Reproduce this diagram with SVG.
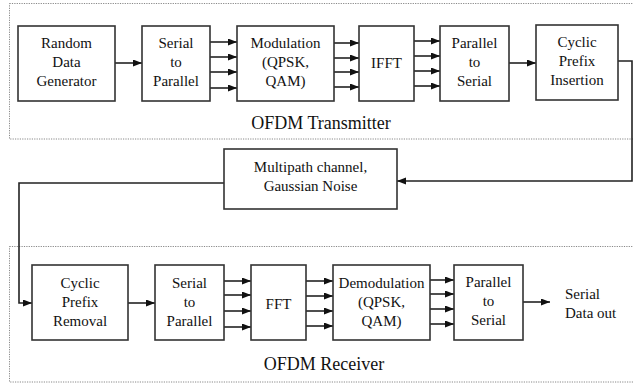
<svg xmlns="http://www.w3.org/2000/svg" width="633" height="384" viewBox="0 0 633 384">
<style>
.box{fill:#fff;stroke:#333;stroke-width:1.6}
.frame{fill:none;stroke:#888;stroke-width:1;stroke-dasharray:1.2 1.2}
.t{font-family:"Liberation Serif","Times New Roman",serif;font-size:15px;fill:#111;text-anchor:middle}
.big{font-family:"Liberation Serif","Times New Roman",serif;font-size:18px;fill:#111;text-anchor:middle}
.lt{font-family:"Liberation Serif","Times New Roman",serif;font-size:15px;fill:#111}
.c{fill:none;stroke:#222;stroke-width:1.6}
</style>
<defs>
<marker id="ah" markerUnits="userSpaceOnUse" markerWidth="10" markerHeight="8" refX="9" refY="3.5" orient="auto">
<path d="M0,0 L9,3.5 L0,7 z" fill="#111"/>
</marker>
</defs>
<rect class="frame" x="9.5" y="3.5" width="640" height="135.5"/>
<rect class="frame" x="9.5" y="246.5" width="640" height="135.5"/>
<text class="big" x="321" y="129">OFDM Transmitter</text>
<text class="big" x="324" y="370">OFDM Receiver</text>
<g id="connectors">
<path class="c" d="M115,63 H142" marker-end="url(#ah)"/>
<path class="c" d="M210,42 H237" marker-end="url(#ah)"/>
<path class="c" d="M210,57 H237" marker-end="url(#ah)"/>
<path class="c" d="M210,72 H237" marker-end="url(#ah)"/>
<path class="c" d="M210,88 H237" marker-end="url(#ah)"/>
<path class="c" d="M334,43 H359" marker-end="url(#ah)"/>
<path class="c" d="M334,58 H359" marker-end="url(#ah)"/>
<path class="c" d="M334,72 H359" marker-end="url(#ah)"/>
<path class="c" d="M334,87 H359" marker-end="url(#ah)"/>
<path class="c" d="M414,41 H440" marker-end="url(#ah)"/>
<path class="c" d="M414,56 H440" marker-end="url(#ah)"/>
<path class="c" d="M414,71 H440" marker-end="url(#ah)"/>
<path class="c" d="M414,86 H440" marker-end="url(#ah)"/>
<path class="c" d="M509,63 H536" marker-end="url(#ah)"/>
<path class="c" d="M618,61 H632 V181 H397" marker-end="url(#ah)"/>
<path class="c" d="M224,183 H19 V303 H32" marker-end="url(#ah)"/>
<path class="c" d="M128,303 H155" marker-end="url(#ah)"/>
<path class="c" d="M224,281 H251" marker-end="url(#ah)"/>
<path class="c" d="M224,295 H251" marker-end="url(#ah)"/>
<path class="c" d="M224,311 H251" marker-end="url(#ah)"/>
<path class="c" d="M224,327 H251" marker-end="url(#ah)"/>
<path class="c" d="M306,281 H333" marker-end="url(#ah)"/>
<path class="c" d="M306,296 H333" marker-end="url(#ah)"/>
<path class="c" d="M306,311 H333" marker-end="url(#ah)"/>
<path class="c" d="M306,326 H333" marker-end="url(#ah)"/>
<path class="c" d="M430,280 H454" marker-end="url(#ah)"/>
<path class="c" d="M430,294 H454" marker-end="url(#ah)"/>
<path class="c" d="M430,309 H454" marker-end="url(#ah)"/>
<path class="c" d="M430,324 H454" marker-end="url(#ah)"/>
<path class="c" d="M523,302 H550" marker-end="url(#ah)"/>
</g>
<g id="rdg">
<rect class="box" x="18" y="26" width="97" height="75"/>
<text class="t" x="66.5" y="48">Random</text>
<text class="t" x="66.5" y="67">Data</text>
<text class="t" x="66.5" y="86">Generator</text>
</g>
<g id="s2p_tx">
<rect class="box" x="142" y="26" width="68" height="75"/>
<text class="t" x="176" y="48">Serial</text>
<text class="t" x="176" y="67">to</text>
<text class="t" x="176" y="86">Parallel</text>
</g>
<g id="mod">
<rect class="box" x="237" y="26" width="97" height="75"/>
<text class="t" x="285.5" y="48">Modulation</text>
<text class="t" x="285.5" y="67">(QPSK,</text>
<text class="t" x="285.5" y="86">QAM)</text>
</g>
<g id="ifft">
<rect class="box" x="359" y="26" width="55" height="75"/>
<text class="t" x="386.5" y="68">IFFT</text>
</g>
<g id="p2s_tx">
<rect class="box" x="440" y="26" width="69" height="75"/>
<text class="t" x="474.5" y="48">Parallel</text>
<text class="t" x="474.5" y="67">to</text>
<text class="t" x="474.5" y="86">Serial</text>
</g>
<g id="cpi">
<rect class="box" x="536" y="25" width="82" height="75"/>
<text class="t" x="577" y="47">Cyclic</text>
<text class="t" x="577" y="66">Prefix</text>
<text class="t" x="577" y="85">Insertion</text>
</g>
<g id="channel">
<rect class="box" x="224" y="149" width="173" height="60"/>
<text class="t" x="310.5" y="172">Multipath channel,</text>
<text class="t" x="310.5" y="191">Gaussian Noise</text>
</g>
<g id="cpr">
<rect class="box" x="32" y="265" width="96" height="75"/>
<text class="t" x="80" y="288">Cyclic</text>
<text class="t" x="80" y="307">Prefix</text>
<text class="t" x="80" y="326">Removal</text>
</g>
<g id="s2p_rx">
<rect class="box" x="155" y="265" width="69" height="75"/>
<text class="t" x="189.5" y="288">Serial</text>
<text class="t" x="189.5" y="307">to</text>
<text class="t" x="189.5" y="326">Parallel</text>
</g>
<g id="fft">
<rect class="box" x="251" y="265" width="55" height="75"/>
<text class="t" x="278.5" y="309">FFT</text>
</g>
<g id="demod">
<rect class="box" x="333" y="265" width="97" height="75"/>
<text class="t" x="381.5" y="288">Demodulation</text>
<text class="t" x="381.5" y="307">(QPSK,</text>
<text class="t" x="381.5" y="326">QAM)</text>
</g>
<g id="p2s_rx">
<rect class="box" x="454" y="265" width="69" height="75"/>
<text class="t" x="488.5" y="287">Parallel</text>
<text class="t" x="488.5" y="306">to</text>
<text class="t" x="488.5" y="325">Serial</text>
</g>
<g id="out">
<text class="lt" x="565" y="299">Serial</text>
<text class="lt" x="565" y="318">Data out</text>
</g>
</svg>
